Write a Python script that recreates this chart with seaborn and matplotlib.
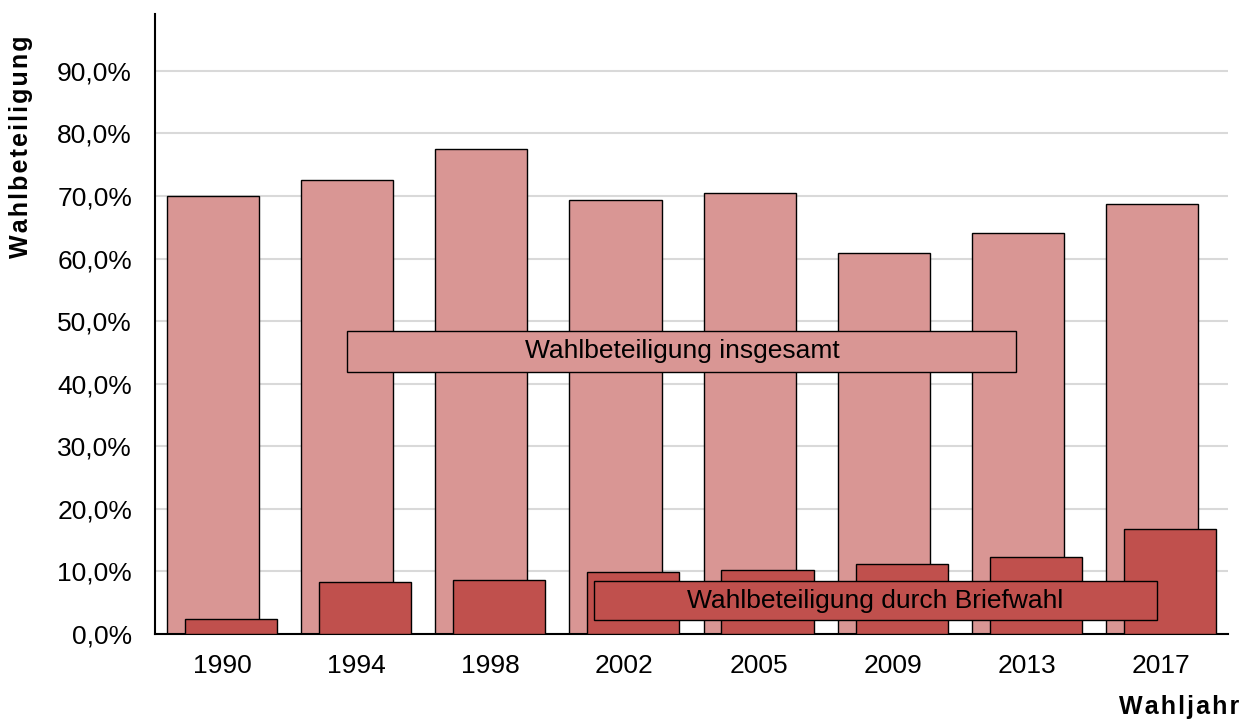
import numpy as np
import pandas as pd
import matplotlib
matplotlib.use("Agg")
import matplotlib.pyplot as plt
from matplotlib.patches import Rectangle
from matplotlib.ticker import FuncFormatter
import seaborn as sns

# Wahlbeteiligung in Prozent
years = ["1990", "1994", "1998", "2002", "2005", "2009", "2013", "2017"]
turnout_total = [70.0, 72.6, 77.5, 69.4, 70.5, 60.9, 64.1, 68.7]
turnout_postal = [2.4, 8.3, 8.6, 9.9, 10.2, 11.2, 12.3, 16.8]

sns.set_style("white")
plt.rcParams["font.family"] = ["Liberation Sans", "DejaVu Sans"]
plt.rcParams["text.color"] = "black"
plt.rcParams["axes.labelcolor"] = "black"

color_total = "#D99694"
color_postal = "#C0504D"
bar_width = 0.687
shift = 0.067
fs = 19
fs_label = 18


def spaced(s):
    # leichte Sperrung wie im Original
    return "\u200a".join(s)


df = pd.DataFrame({"jahr": years, "gesamt": turnout_total, "brief": turnout_postal})

fig = plt.figure(figsize=(12.5, 7.2), dpi=100)
ax = fig.add_axes([0.124, 0.1194, 0.8584, 0.8612])

sns.barplot(data=df, x="jahr", y="gesamt", color=color_total, width=bar_width,
            edgecolor="black", linewidth=1.0, saturation=1, ax=ax, zorder=2)
n_first = len(ax.patches)
sns.barplot(data=df, x="jahr", y="brief", color=color_postal, width=bar_width,
            edgecolor="black", linewidth=1.0, saturation=1, ax=ax, zorder=3)

# overlapping bars: total slightly left, postal slightly right
for i, p in enumerate(ax.patches):
    if i < n_first:
        p.set_x(p.get_x() - shift)
    else:
        p.set_x(p.get_x() + shift)

ax.set_xlim(-0.5, len(years) - 0.5)
ax.set_ylim(0, 99.1)
ax.set_yticks(np.arange(0, 91, 10))
ax.yaxis.set_major_formatter(FuncFormatter(lambda v, _: f"{v:.1f}%".replace(".", ",")))
ax.grid(axis="y", color="#D9D9D9", linewidth=1.5, zorder=0)
ax.set_axisbelow(True)

for side in ["top", "right"]:
    ax.spines[side].set_visible(False)
for side in ["left", "bottom"]:
    ax.spines[side].set_color("black")
    ax.spines[side].set_linewidth(1.5)

ax.tick_params(axis="both", length=0, labelsize=fs, labelcolor="black")
ax.tick_params(axis="y", pad=16.5)
ax.tick_params(axis="x", pad=14.5)

ax.set_xlabel(spaced("Wahljahr"), fontsize=fs_label, fontweight="bold")
ax.xaxis.set_label_coords(0.954, -0.098)
ax.set_ylabel(spaced("Wahlbeteiligung"), fontsize=fs_label, fontweight="bold")
ax.yaxis.set_label_coords(-0.1137, 0.786)

# Beschriftungskästen
ax.add_patch(Rectangle((0.932, 41.9), 4.988, 6.5, facecolor=color_total,
                       edgecolor="black", linewidth=1.0, zorder=4))
ax.text(3.43, 45.2, "Wahlbeteiligung insgesamt", ha="center", va="center",
        fontsize=fs, color="black", zorder=5)
ax.add_patch(Rectangle((2.774, 2.2), 4.198, 6.3, facecolor=color_postal,
                       edgecolor="black", linewidth=1.0, zorder=4))
ax.text(4.87, 5.35, "Wahlbeteiligung durch Briefwahl", ha="center", va="center",
        fontsize=fs, color="black", zorder=5)

plt.savefig("out.png", dpi=100)
